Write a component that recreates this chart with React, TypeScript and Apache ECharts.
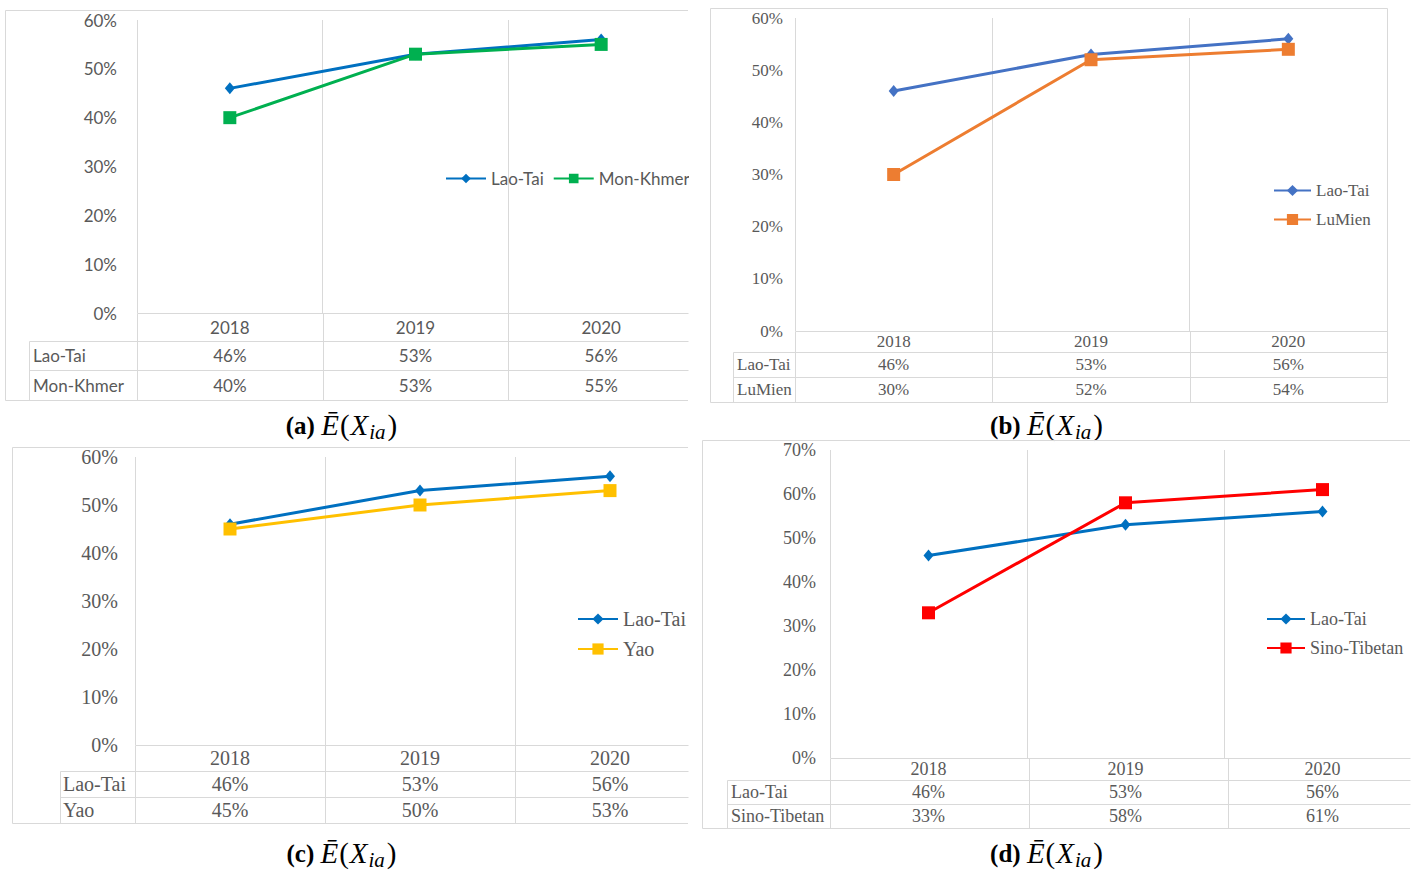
import React, { useEffect, useRef } from 'react';
import * as echarts from 'echarts';

// ---------- data ----------
const years = ['2018', '2019', '2020'];
const laoTai = [0.46, 0.53, 0.56];
const monKhmer = [0.4, 0.53, 0.55];
const luMien = [0.3, 0.52, 0.54];
const yao = [0.45, 0.5, 0.53];
const sinoTibetan = [0.33, 0.58, 0.61];
const yMaxAbc = 0.6;
const yMaxD = 0.7;
const yStep = 0.1;

const pct = (v: number) => Math.round(v * 100) + '%';

const GRID_C = '#d9d9d9';
const TEXT_C = '#595959';
const SERIF = '"Liberation Serif", "Times New Roman", serif';
const SANS = 'Lato, "Open Sans", sans-serif';

const panels = [
  {
    key: 'a', second: { name: 'Mon-Khmer', data: monKhmer, color: '#00B050' }, laoColor: '#0070C0', yMax: yMaxAbc,
    box: { x0: 5, y0: 10, x1: 688, y1: 400 }, openRight: true,
    L: 137, R: 694, T: 20, B: 313, rows: [313, 341, 370, 400], TL: 29,
    font: SANS, fs: 17, yMargin: 20, nameGap: 104,
    legend: { orient: 'horizontal', left: 445, top: 170, itemWidth: 40, itemHeight: 12, itemGap: 9 },
    cap: [342, 425],
  },
  {
    key: 'b', second: { name: 'LuMien', data: luMien, color: '#ED7D31' }, laoColor: '#4472C4', yMax: yMaxAbc,
    box: { x0: 710, y0: 8, x1: 1387, y1: 402 }, openRight: false,
    L: 795, R: 1387, T: 18, B: 331, rows: [331, 352, 377, 402], TL: 733,
    font: SERIF, fs: 17, yMargin: 12, nameGap: 58,
    legend: { orient: 'vertical', left: 1273, top: 182, itemWidth: 37, itemHeight: 14, itemGap: 12 },
    cap: [1047, 425],
  },
  {
    key: 'c', second: { name: 'Yao', data: yao, color: '#FFC000' }, laoColor: '#0070C0', yMax: yMaxAbc,
    box: { x0: 12, y0: 447, x1: 688, y1: 823 }, openRight: true,
    L: 135, R: 705, T: 457, B: 745, rows: [745, 771, 797, 823], TL: 60,
    font: SERIF, fs: 20, yMargin: 17, nameGap: 72,
    legend: { orient: 'vertical', left: 577, top: 609, itemWidth: 40, itemHeight: 14, itemGap: 10 },
    cap: [342, 853],
  },
  {
    key: 'd', second: { name: 'Sino-Tibetan', data: sinoTibetan, color: '#FF0000' }, laoColor: '#0070C0', yMax: yMaxD,
    box: { x0: 702, y0: 440, x1: 1410, y1: 828 }, openRight: true,
    L: 830, R: 1427, T: 450, B: 758, rows: [758, 780, 804, 828], TL: 727,
    font: SERIF, fs: 18, yMargin: 14, nameGap: 99,
    legend: { orient: 'vertical', left: 1266, top: 610, itemWidth: 38, itemHeight: 14, itemGap: 11 },
    cap: [1047, 853],
  },
];

function line(x1: number, y1: number, x2: number, y2: number) {
  return {
    type: 'line', silent: true,
    shape: { x1: x1 + 0.5, y1: y1 + 0.5, x2: x2 + 0.5, y2: y2 + 0.5 },
    style: { stroke: GRID_C, lineWidth: 1 },
  };
}

function buildOption() {
  const grid: any[] = [];
  const xAxis: any[] = [];
  const yAxis: any[] = [];
  const series: any[] = [];
  const legend: any[] = [];
  const graphic: any[] = [];

  panels.forEach((p, k) => {
    const w = (p.R - p.L) / 3;
    grid.push({ left: p.L, top: p.T, width: p.R - p.L, height: p.B - p.T, show: false });
    const txt = { color: TEXT_C, fontFamily: p.font, fontSize: p.fs };
    const center = (a: number, b: number) => (a + b) / 2;

    // header row: years
    xAxis.push({
      type: 'category', gridIndex: k, position: 'bottom', data: years, boundaryGap: true,
      axisLine: { show: false }, axisTick: { show: false },
      axisLabel: { ...txt, interval: 0, margin: center(p.rows[0], p.rows[1]) - p.B, verticalAlign: 'middle' },
      splitLine: { show: true, showMinLine: true, showMaxLine: !p.openRight, lineStyle: { color: GRID_C, width: 1 } },
    });
    // table rows
    const rowsData = [
      { name: 'Lao-Tai', data: laoTai },
      { name: p.second.name, data: p.second.data },
    ];
    rowsData.forEach((r, ri) => {
      xAxis.push({
        type: 'category', gridIndex: k, position: 'bottom', data: r.data.map(pct), boundaryGap: true,
        offset: center(p.rows[ri + 1], p.rows[ri + 2]) - p.B,
        axisLine: { show: false }, axisTick: { show: false }, splitLine: { show: false },
        axisLabel: { ...txt, interval: 0, margin: 0, verticalAlign: 'middle' },
        name: r.name, nameLocation: 'start', nameGap: p.nameGap,
        nameTextStyle: { ...txt, align: 'left', verticalAlign: 'middle' },
      });
    });
    yAxis.push({
      type: 'value', gridIndex: k, min: 0, max: p.yMax, interval: yStep,
      axisLine: { show: false }, axisTick: { show: false }, splitLine: { show: false },
      axisLabel: { ...txt, margin: p.yMargin, formatter: (v: number) => pct(v) },
    });

    const laoName = 'Lao-Tai#' + p.key;
    const secName = p.second.name + '#' + p.key;
    series.push({
      type: 'line', name: laoName, xAxisIndex: 3 * k, yAxisIndex: k, data: laoTai,
      symbol: 'diamond', symbolSize: [10, 12], color: p.laoColor,
      lineStyle: { width: 3, color: p.laoColor }, itemStyle: { color: p.laoColor },
    });
    series.push({
      type: 'line', name: secName, xAxisIndex: 3 * k, yAxisIndex: k, data: p.second.data,
      symbol: 'rect', symbolSize: 13, color: p.second.color,
      lineStyle: { width: 3, color: p.second.color }, itemStyle: { color: p.second.color },
    });
    legend.push({
      data: [laoName, secName], orient: p.legend.orient, left: p.legend.left, top: p.legend.top,
      itemWidth: p.legend.itemWidth, itemHeight: p.legend.itemHeight, itemGap: p.legend.itemGap,
      padding: 0, selectedMode: false,
      textStyle: { ...txt },
      formatter: (n: string) => n.split('#')[0],
    });

    // table / border lines
    const b = p.box;
    if (p.openRight) {
      graphic.push({
        type: 'polyline', silent: true,
        shape: { points: [[b.x1, b.y0 + 0.5], [b.x0 + 0.5, b.y0 + 0.5], [b.x0 + 0.5, b.y1 + 0.5], [b.x1, b.y1 + 0.5]] },
        style: { stroke: GRID_C, lineWidth: 1, fill: 'none' },
      });
    } else {
      graphic.push({
        type: 'rect', silent: true,
        shape: { x: b.x0 + 0.5, y: b.y0 + 0.5, width: b.x1 - b.x0, height: b.y1 - b.y0 },
        style: { stroke: GRID_C, lineWidth: 1, fill: 'none' },
      });
    }
    graphic.push(line(p.L, p.B, b.x1, p.B));
    graphic.push(line(p.TL, p.rows[1], b.x1, p.rows[1]));
    graphic.push(line(p.TL, p.rows[2], b.x1, p.rows[2]));
    graphic.push(line(p.TL, p.rows[1], p.TL, p.rows[3]));
    for (let i = 0; i <= 3; i++) {
      const x = Math.round(p.L + i * w);
      if (x < b.x1) graphic.push(line(x, p.B, x, p.rows[3]));
    }

    // caption
    graphic.push({
      type: 'text', silent: true, x: p.cap[0], y: p.cap[1],
      style: {
        text: `{b|(${p.key}) }{m|Ē}{p|(}{m|X}{s|ia}{p|)}`,
        align: 'center', verticalAlign: 'middle', fill: '#000',
        rich: {
          b: { fontFamily: SERIF, fontWeight: 'bold', fontSize: 25, fill: '#000' },
          m: { fontFamily: SERIF, fontStyle: 'italic', fontSize: 29, fill: '#000' },
          p: { fontFamily: SERIF, fontSize: 29, fill: '#000', padding: [0, 1, 0, 1] },
          s: { fontFamily: SERIF, fontStyle: 'italic', fontSize: 21, fill: '#000', padding: [13, 1, 0, 1] },
        },
      },
    });
  });

  // white strips that cut the panels as in the reference image
  graphic.push({ type: 'rect', silent: true, z: 100, shape: { x: 689, y: 0, width: 20, height: 440 }, style: { fill: '#fff' } });
  graphic.push({ type: 'rect', silent: true, z: 100, shape: { x: 689, y: 440, width: 12, height: 430 }, style: { fill: '#fff' } });
  graphic.push({ type: 'rect', silent: true, z: 100, shape: { x: 1411, y: 430, width: 10, height: 440 }, style: { fill: '#fff' } });

  return {
    animation: false,
    backgroundColor: '#fff',
    grid, xAxis, yAxis, series, legend, graphic,
  };
}

export default function App() {
  const ref = useRef<HTMLDivElement>(null);
  useEffect(() => {
    const chart = echarts.init(ref.current!, undefined, { renderer: 'svg' });
    chart.setOption(buildOption() as any);
    return () => chart.dispose();
  }, []);
  return (
    <div
      ref={ref}
      style={{ position: 'fixed', left: 0, top: 0, width: 1421, height: 870, background: '#fff' }}
    />
  );
}
